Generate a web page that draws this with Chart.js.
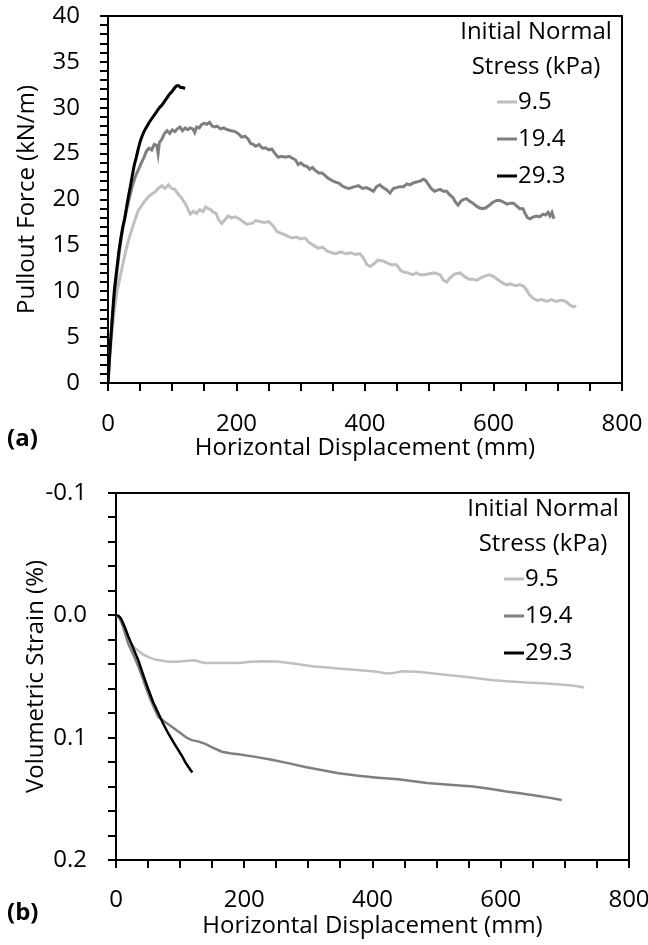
<!DOCTYPE html>
<html>
<head>
<meta charset="utf-8">
<script src="https://cdn.jsdelivr.net/npm/chart.js@4"></script>
<style>
  html, body { margin: 0; padding: 0; background: #fff; }
  #wrap { position: relative; width: 648px; height: 945px; overflow: hidden; }
  canvas { position: absolute; left: 0; }
  #chartA { top: 0; }
  #chartB { top: 470px; }
  .panel { position: absolute; left: 7px; font: bold 24px 'Open Sans', sans-serif; color: #000; line-height: 28px; }
</style>
</head>
<body>
<div id="wrap">
  <canvas id="chartA" width="648" height="470"></canvas>
  <canvas id="chartB" width="648" height="475"></canvas>
  <div class="panel" style="top:423px">(a)</div>
  <div class="panel" style="top:897px">(b)</div>
</div>
<script>
// Test series: initial normal stress (kPa)
const SERIES_LABELS = ['9.5', '19.4', '29.3'];
const SERIES_COLORS = ['#bfbfbf', '#7f7f7f', '#000000'];
const LEGEND_TITLE = ['Initial Normal', 'Stress (kPa)'];

// Pullout force (kN/m) vs horizontal displacement (mm): [displacement, force]
const force95 = [[0,0],[3,3],[6,5.5],[10,8],[14,9.9],[18,11.3],[22,12.6],[27,14.2],[32,15.6],[37,16.7],[42,17.8],[47,18.8],[53,19.4],[58,19.9],[63,20.3],[68,20.6],[73,20.8],[78,21.2],[84,21.5],[89,21.2],[94,21.6],[99,21.2],[104,21.1],[109,20.6],[114,20.2],[120,19.6],[124,19.0],[128,18.4],[133,18.7],[138,18.5],[143,18.9],[148,18.7],[152,19.2],[156,19.0],[160,18.9],[164,18.6],[168,18.5],[172,17.8],[177,17.4],[182,17.8],[187,18.2],[192,18.0],[198,18.1],[204,17.9],[210,17.6],[216,17.3],[224,17.4],[230,17.7],[236,17.6],[243,17.5],[250,17.6],[256,17.2],[263,16.5],[270,16.3],[277,16.1],[286,15.8],[293,15.9],[300,15.7],[307,15.8],[313,15.3],[320,15.0],[327,14.7],[334,14.8],[341,14.4],[348,14.2],[355,14.1],[362,14.3],[370,14.1],[378,14.2],[385,14.0],[392,14.1],[398,13.6],[403,12.9],[408,12.7],[414,13.0],[420,13.4],[428,13.3],[434,13.1],[441,12.9],[449,12.9],[455,12.3],[460,12.1],[467,12.0],[474,11.8],[480,12.0],[486,11.8],[493,11.8],[500,11.9],[508,12.0],[517,11.8],[522,11.2],[527,11.0],[533,11.5],[540,11.9],[548,12.0],[555,11.6],[562,11.3],[568,11.3],[574,11.2],[581,11.5],[588,11.7],[594,11.8],[600,11.6],[606,11.3],[612,11.0],[617,10.8],[621,10.7],[627,10.8],[634,10.6],[640,10.7],[646,10.6],[651,10.2],[656,9.6],[662,9.2],[668,9.0],[675,9.1],[683,8.9],[690,9.1],[697,8.9],[703,9.0],[709,9.0],[714,8.8],[719,8.5],[724,8.3],[729,8.4]];
const force194 = [[0,0],[3,3.5],[6,6.3],[10,9.6],[14,12.2],[18,14.5],[22,16.4],[26,18.0],[30,19.2],[34,20.4],[38,21.5],[42,22.4],[47,23.2],[52,24.0],[56,24.6],[60,25.3],[64,25.6],[68,25.4],[72,26.0],[76,25.9],[78,25.0],[80,26.2],[84,26.6],[88,27.2],[92,27.5],[96,27.2],[100,27.6],[104,27.4],[108,27.7],[112,27.9],[116,27.5],[120,27.8],[124,27.6],[128,27.8],[132,27.7],[135,27.3],[138,27.9],[142,27.8],[146,28.2],[150,28.3],[154,28.2],[158,28.4],[162,28.0],[166,27.9],[170,28.0],[175,27.7],[180,27.8],[186,27.6],[192,27.5],[198,27.4],[204,27.1],[208,26.8],[213,26.9],[218,26.6],[222,26.1],[226,26.0],[230,25.8],[235,26.0],[240,25.6],[246,25.6],[250,25.4],[255,25.5],[260,25.0],[265,24.6],[270,24.7],[276,24.6],[282,24.7],[287,24.5],[292,24.3],[296,23.8],[300,24.0],[305,23.7],[310,23.6],[314,23.3],[318,23.5],[322,23.2],[328,22.9],[333,22.9],[338,22.6],[343,22.3],[348,22.1],[354,21.9],[359,21.8],[364,21.5],[370,21.3],[375,21.2],[379,21.3],[384,21.4],[390,21.5],[396,21.2],[402,21.3],[408,21.1],[413,20.9],[418,21.4],[423,21.6],[428,21.3],[433,21.1],[439,20.7],[444,21.2],[449,21.3],[454,21.4],[460,21.4],[465,21.7],[470,21.6],[475,21.8],[480,21.9],[486,22.0],[491,22.2],[494,22.1],[498,21.7],[503,21.2],[508,20.9],[512,21.0],[517,21.1],[522,20.9],[527,20.9],[532,20.5],[537,20.2],[541,19.7],[545,19.4],[549,19.8],[553,20.0],[558,20.1],[563,19.8],[568,19.6],[573,19.3],[578,19.1],[583,19.0],[588,19.1],[594,19.4],[599,19.7],[605,19.9],[610,19.9],[616,19.7],[621,19.5],[626,19.6],[631,19.6],[636,19.3],[641,19.0],[646,19.0],[649,18.5],[653,18.0],[657,17.9],[662,18.1],[667,18.2],[672,18.1],[677,18.4],[681,18.3],[685,18.6],[688,18.2],[691,18.6],[694,17.9]];
const force293 = [[0,0],[2,2.5],[4,4.5],[6,6.5],[8,8.4],[10,10.2],[14,12.6],[17,14.4],[20,15.8],[23,17.0],[26,17.9],[29,19.2],[32,20.4],[35,21.5],[38,22.7],[41,23.8],[44,24.6],[47,25.5],[50,26.3],[53,26.9],[56,27.4],[60,27.9],[64,28.4],[68,28.8],[72,29.2],[76,29.6],[80,30.0],[84,30.3],[88,30.7],[92,31.1],[96,31.5],[100,31.8],[104,32.2],[107,32.4],[110,32.4],[113,32.2],[116,32.2],[120,32.1]];

// Volumetric strain (%) vs horizontal displacement (mm): [displacement, strain]
const strain95 = [[0,0],[5,0.002],[10,0.008],[15,0.015],[20,0.020],[25,0.024],[30,0.027],[35,0.029],[42,0.032],[50,0.034],[60,0.036],[70,0.037],[82,0.038],[95,0.038],[105,0.0375],[115,0.037],[122,0.0368],[130,0.038],[139,0.039],[160,0.039],[191,0.039],[210,0.038],[227,0.0375],[250,0.0378],[264,0.0386],[285,0.040],[305,0.0416],[325,0.0425],[347,0.0435],[381,0.0449],[404,0.046],[422,0.0476],[435,0.047],[448,0.0457],[470,0.0462],[495,0.0476],[540,0.050],[589,0.053],[615,0.054],[640,0.055],[665,0.0555],[693,0.0566],[715,0.0575],[730,0.059]];
const strain194 = [[0,0],[4,0.001],[8,0.005],[12,0.011],[19,0.023],[27,0.032],[35,0.042],[42,0.052],[50,0.064],[58,0.074],[66,0.083],[76,0.087],[87,0.091],[100,0.096],[110,0.100],[118,0.102],[128,0.103],[139,0.105],[150,0.108],[165,0.1115],[180,0.113],[191,0.1135],[215,0.1155],[243,0.118],[270,0.121],[295,0.124],[320,0.1265],[347,0.129],[375,0.131],[404,0.1325],[440,0.134],[485,0.137],[520,0.1385],[557,0.140],[585,0.142],[609,0.144],[630,0.1455],[651,0.147],[675,0.149],[695,0.151]];
const strain293 = [[0,0],[4,0.0005],[7,0.002],[10,0.005],[14,0.010],[19,0.017],[27,0.027],[35,0.037],[42,0.048],[50,0.060],[58,0.071],[66,0.080],[74,0.089],[82,0.097],[90,0.104],[97,0.110],[103,0.115],[108,0.120],[113,0.124],[119,0.1285]];

// Axis ticks (every tick gets a mark, only the listed ones get a label)
const X_TICKS = [0,50,100,150,200,250,300,350,400,450,500,550,600,650,700,750,800];
const X_LABELED = [0,200,400,600,800];
const Y_TICKS_A = [0,1,2,3,4,5,6,7,8,9,10,11,12,13,14,15,16,17,18,19,20,21,22,23,24,25,26,27,28,29,30,31,32,33,34,35,36,37,38,39,40];
const Y_LABELED_A = [0,5,10,15,20,25,30,35,40];
const Y_TICKS_B = [-0.1,-0.08,-0.06,-0.04,-0.02,0,0.02,0.04,0.06,0.08,0.1,0.12,0.14,0.16,0.18,0.2];
const Y_LABELED_B = [-0.1,0,0.1,0.2];

const FONT = "'Open Sans', sans-serif";
const FS = 24;
Chart.defaults.font.family = FONT;
Chart.defaults.font.size = FS;
Chart.defaults.color = '#000';

const inList = (list, v) => list.some(t => Math.abs(t - v) < 1e-9);

// Frame on the top/right sides plus the in-plot key
const frameAndKey = {
  id: 'frameAndKey',
  afterDraw(chart) {
    const { ctx, chartArea: a } = chart;
    ctx.save();
    ctx.strokeStyle = '#000';
    ctx.lineWidth = 2;
    ctx.beginPath();
    ctx.moveTo(a.left, a.top);
    ctx.lineTo(a.right, a.top);
    ctx.lineTo(a.right, a.bottom);
    ctx.stroke();

    ctx.font = FS + 'px ' + FONT;
    ctx.fillStyle = '#000';
    ctx.textBaseline = 'middle';
    ctx.textAlign = 'center';
    LEGEND_TITLE.forEach((t, i) => ctx.fillText(t, a.right - 86, a.top + 16 + i * 35));
    ctx.textAlign = 'left';
    chart.data.datasets.forEach((ds, i) => {
      const y = a.top + 86 + i * 37;
      ctx.strokeStyle = ds.borderColor;
      ctx.lineWidth = 3;
      ctx.beginPath();
      ctx.moveTo(a.right - 125, y);
      ctx.lineTo(a.right - 105, y);
      ctx.stroke();
      ctx.fillText(ds.label, a.right - 104, y);
    });
    ctx.restore();
  }
};

function axisStyle() {
  return {
    grid: { drawOnChartArea: false, drawTicks: true, tickLength: 8, color: '#000', lineWidth: 2 },
    border: { display: true, color: '#000', width: 2 }
  };
}

// keep the plot area fixed by the layout padding alone
function noEdgePadding(s) {
  s.paddingLeft = 0; s.paddingRight = 0; s.paddingTop = 0; s.paddingBottom = 0;
}

function buildChart(id, sets, opt) {
  const datasets = SERIES_LABELS.map((lab, i) => ({
    label: lab,
    data: sets[i].map(([x, y]) => ({ x, y })),
    borderColor: SERIES_COLORS[i],
    backgroundColor: SERIES_COLORS[i],
    borderWidth: opt.lineWidth,
    pointRadius: 0,
    fill: false,
    tension: 0,
    order: 3 - i
  }));
  return new Chart(document.getElementById(id), {
    type: 'line',
    data: { datasets },
    plugins: [frameAndKey],
    options: {
      responsive: false,
      animation: false,
      events: [],
      layout: { padding: { left: 0, top: opt.top, right: opt.right, bottom: 0 } },
      plugins: { legend: { display: false }, tooltip: { enabled: false } },
      scales: {
        x: Object.assign(axisStyle(), {
          type: 'linear', position: 'bottom', min: 0, max: 800,
          afterBuildTicks: s => { s.ticks = X_TICKS.map(v => ({ value: v })); },
          afterFit: s => { s.height = opt.xHeight; noEdgePadding(s); },
          ticks: {
            autoSkip: false, maxRotation: 0, minRotation: 0, padding: opt.xTickPad,
            callback: v => inList(X_LABELED, v) ? String(v) : ''
          },
          title: { display: true, text: 'Horizontal Displacement (mm)', padding: { top: 0, bottom: opt.xTitlePad } }
        }),
        y: Object.assign(axisStyle(), {
          type: 'linear', position: 'left', min: opt.yMin, max: opt.yMax, reverse: opt.reverse,
          afterBuildTicks: s => {
            const t = opt.yTicks.map(v => ({ value: v }));
            s.ticks = opt.reverse ? t.reverse() : t;
          },
          afterFit: s => { s.width = opt.yWidth; noEdgePadding(s); },
          ticks: {
            autoSkip: false, padding: opt.yTickPad,
            callback: v => inList(opt.yLabeled, v) ? opt.fmt(v) : ''
          },
          title: { display: true, text: opt.yTitle, padding: { top: opt.yTitlePad, bottom: 0 } }
        })
      }
    }
  });
}

buildChart('chartA', [force95, force194, force293], {
  lineWidth: 3, top: 16, right: 26, xHeight: 87, yWidth: 108,
  xTickPad: 19, xTitlePad: 7, yTickPad: 20, yTitlePad: 13,
  yMin: 0, yMax: 40, reverse: false, yTicks: Y_TICKS_A, yLabeled: Y_LABELED_A,
  fmt: v => String(Math.round(v)), yTitle: 'Pullout Force (kN/m)'
});

buildChart('chartB', [strain95, strain194, strain293], {
  lineWidth: 2.5, top: 23, right: 19, xHeight: 85, yWidth: 116,
  xTickPad: 18, xTitlePad: 4, yTickPad: 21, yTitlePad: 22,
  yMin: -0.1, yMax: 0.2, reverse: true, yTicks: Y_TICKS_B, yLabeled: Y_LABELED_B,
  fmt: v => (Math.abs(v) < 1e-9 ? 0 : v).toFixed(1), yTitle: 'Volumetric Strain (%)'
});
</script>
</body>
</html>
